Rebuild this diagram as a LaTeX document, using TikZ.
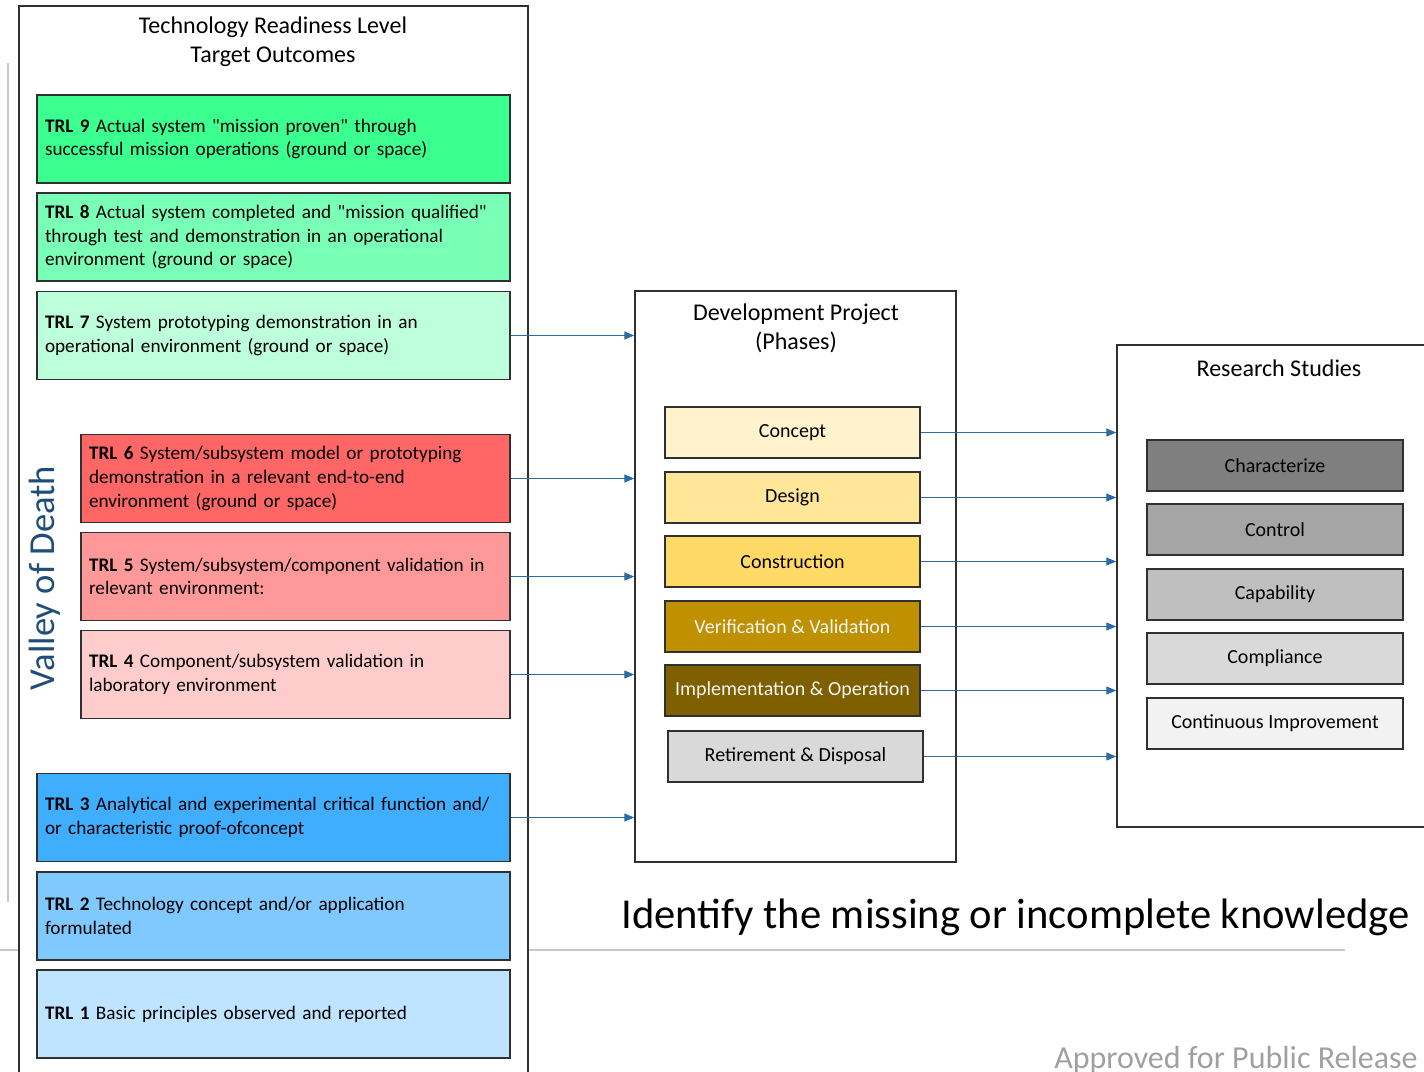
\documentclass[tikz,border=0pt]{standalone}
\usepackage{fontspec}
\setmainfont{Carlito}[Ligatures=TeXOff]
\usepackage{tikz}
\usetikzlibrary{arrows.meta,positioning}
\definecolor{trlnine}{HTML}{3BFF8F}
\definecolor{trleight}{HTML}{7AFFB7}
\definecolor{trlseven}{HTML}{BDFFDA}
\definecolor{trlsix}{HTML}{FF6666}
\definecolor{trlfive}{HTML}{FF9999}
\definecolor{trlfour}{HTML}{FFCCCC}
\definecolor{trlthree}{HTML}{40AEFF}
\definecolor{trltwo}{HTML}{80C9FF}
\definecolor{trlone}{HTML}{BFE4FF}
\definecolor{arrowblue}{HTML}{2D6BA6}
\definecolor{valleyblue}{HTML}{1F4E79}
\definecolor{rulegray}{HTML}{C8C8C8}
\definecolor{edgegray}{HTML}{303030}

\begin{document}
\begin{tikzpicture}[
    x=0.5pt, y=-0.5pt,
    panel/.style={rectangle, draw=edgegray, line width=0.7pt, fill=white},
    paneltitle/.style={align=center, font=\fontsize{12}{14.5}\selectfont},
    trlbox/.style={rectangle, draw=edgegray, line width=0.6pt, minimum height=44pt,
                   inner xsep=4pt, align=left, anchor=center,
                   font=\fontsize{9.6}{11.8}\selectfont},
    trlwide/.style={trlbox, minimum width=236.5pt, text width=228.5pt},
    trlnarrow/.style={trlbox, minimum width=214.5pt, text width=206.5pt},
    phasebox/.style={rectangle, draw=edgegray, line width=0.6pt, minimum width=127.5pt,
                     minimum height=25.5pt, font=\fontsize{10}{12}\selectfont},
    studybox/.style={phasebox, minimum width=128pt},
    arr/.style={-{Triangle[length=5pt,width=4pt]}, color=arrowblue, line width=0.6pt}
  ]
  \clip (0,0) rectangle (1424,1071);

  \draw[rulegray, line width=1pt] (0,950) -- (1345,950);
  \draw[rulegray, line width=1pt] (8,63) -- (8,902);

  \node[panel, minimum width=254.5pt, minimum height=542pt] (trlpanel) at (273.5,548) {};
  \node[paneltitle] (trltitle) at (273,42) {Technology Readiness Level\\Target Outcomes};

  \node[trlwide, fill=trlnine] (trl9) at (273.5,139) {\textbf{TRL 9} Actual system "mission proven" through\\successful mission operations (ground or space)};
  \node[trlwide, fill=trleight] (trl8) at (273.5,237) {\textbf{TRL 8} Actual system completed and "mission qualified"\\through test and demonstration in an operational\\environment (ground or space)};
  \node[trlwide, fill=trlseven] (trl7) at (273.5,335.5) {\textbf{TRL 7} System prototyping demonstration in an\\operational environment (ground or space)};
  \node[trlnarrow, fill=trlsix] (trl6) at (295.5,478.5) {\textbf{TRL 6} System/subsystem model or prototyping\\demonstration in a relevant end-to-end\\environment (ground or space)};
  \node[trlnarrow, fill=trlfive] (trl5) at (295.5,576.5) {\textbf{TRL 5} System/subsystem/component validation in\\relevant environment:};
  \node[trlnarrow, fill=trlfour] (trl4) at (295.5,674.5) {\textbf{TRL 4} Component/subsystem validation in\\laboratory environment};
  \node[trlwide, fill=trlthree] (trl3) at (273.5,817.5) {\textbf{TRL 3} Analytical and experimental critical function and/\\or characteristic proof-ofconcept};
  \node[trlwide, fill=trltwo] (trl2) at (273.5,916) {\textbf{TRL 2} Technology concept and/or application\\formulated};
  \node[trlwide, fill=trlone] (trl1) at (273.5,1014) {\textbf{TRL 1} Basic principles observed and reported};

  \node[rotate=90, text=valleyblue, font=\fontsize{18.3}{20}\selectfont] (valley) at (45,578) {Valley of Death};

  \node[panel, minimum width=160.5pt, minimum height=285.5pt] (dev) at (795.5,576.5) {};
  \node[paneltitle] (devtitle) at (796,328) {Development Project\\(Phases)};

  \node[phasebox, fill={rgb,255:red,255;green,242;blue,204}] (concept) at (792.5,432.5) {Concept};
  \node[phasebox, fill={rgb,255:red,255;green,230;blue,153}] (design) at (792.5,497.5) {Design};
  \node[phasebox, fill={rgb,255:red,255;green,217;blue,102}] (constr) at (792.5,561.5) {Construction};
  \node[phasebox, fill={rgb,255:red,191;green,144;blue,0}, text={rgb,255:red,245;green,245;blue,245}] (verif) at (792.5,626.5) {Verification \& Validation};
  \node[phasebox, fill={rgb,255:red,127;green,96;blue,0}, text={rgb,255:red,245;green,245;blue,245}] (implem) at (792.5,690.5) {Implementation \& Operation};
  \node[phasebox, fill={rgb,255:red,217;green,217;blue,217}] (retire) at (795.5,756.5) {Retirement \& Disposal};

  \node[panel, minimum width=166.5pt, minimum height=241pt] (studies) at (1283.5,586) {};
  \node[paneltitle] (studtitle) at (1279,368) {Research Studies};

  \node[studybox, fill={rgb,255:red,127;green,127;blue,127}] (charact) at (1275,465.5) {Characterize};
  \node[studybox, fill={rgb,255:red,165;green,165;blue,165}] (control) at (1275,529.5) {Control};
  \node[studybox, fill={rgb,255:red,191;green,191;blue,191}] (capab) at (1275,594.5) {Capability};
  \node[studybox, fill={rgb,255:red,217;green,217;blue,217}] (compl) at (1275,658.5) {Compliance};
  \node[studybox, fill={rgb,255:red,242;green,242;blue,242}] (contimp) at (1275,723.5) {Continuous Improvement};

  \draw[arr] (trl7.east) -- (trl7.east -| dev.west);
  \draw[arr] (trl6.east) -- (trl6.east -| dev.west);
  \draw[arr] (trl5.east) -- (trl5.east -| dev.west);
  \draw[arr] (trl4.east) -- (trl4.east -| dev.west);
  \draw[arr] (trl3.east) -- (trl3.east -| dev.west);

  \draw[arr] (concept.east) -- (concept.east -| studies.west);
  \draw[arr] (design.east) -- (design.east -| studies.west);
  \draw[arr] (constr.east) -- (constr.east -| studies.west);
  \draw[arr] (verif.east) -- (verif.east -| studies.west);
  \draw[arr] (implem.east) -- (implem.east -| studies.west);
  \draw[arr] (retire.east) -- (retire.east -| studies.west);

  \node[font=\fontsize{21.3}{24}\selectfont, anchor=west, inner sep=0pt] (identify) at (621,917) {Identify the missing or incomplete knowledge};
  \node[font=\fontsize{16}{18}\selectfont, text={rgb,255:red,160;green,160;blue,160}, anchor=east, inner sep=0pt] (approved) at (1418,1060) {Approved for Public Release};
\end{tikzpicture}
\end{document}
